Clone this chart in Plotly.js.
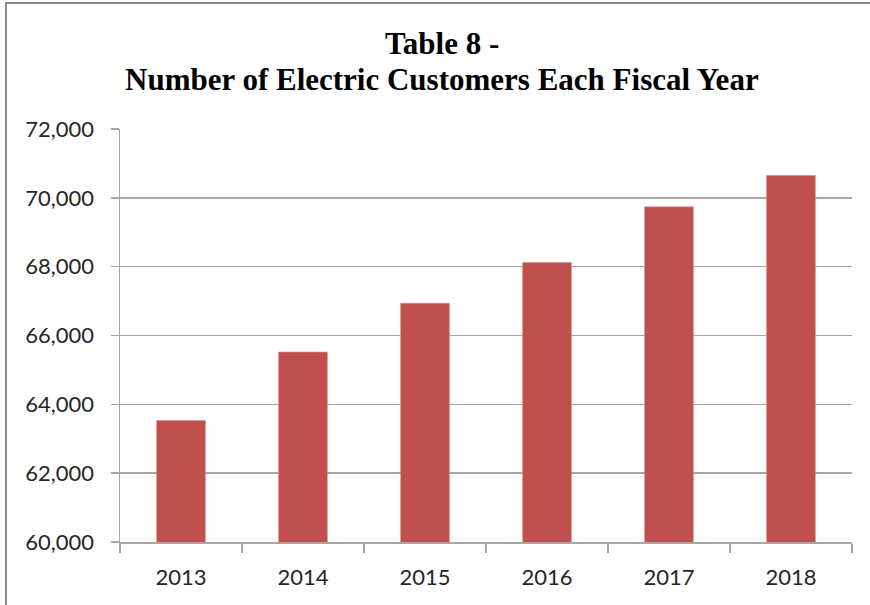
<!DOCTYPE html>
<html>
<head>
<meta charset="utf-8">
<script src="https://cdn.plot.ly/plotly-3.0.1.min.js"></script>
<style>
html,body{margin:0;padding:0;overflow:hidden;background:#fff;}
#wrap{position:relative;width:870px;height:605px;}
#chart{position:absolute;left:0;top:0;width:870px;height:605px;}
#frame{position:absolute;left:5px;top:2px;width:900px;height:700px;border:2px solid #8a8a8a;pointer-events:none;box-sizing:border-box;}
</style>
</head>
<body>
<div id="wrap"><div id="chart"></div><div id="frame"></div></div>
<script>
const years = ['2013','2014','2015','2016','2017','2018'];
const customers = [63530, 65520, 66940, 68120, 69740, 70650];
const yTicks = [60000, 62000, 64000, 66000, 68000, 70000, 72000];
const yTickLabels = ['60,000','62,000','64,000','66,000','68,000','70,000','72,000'];
const titleLines = ['Table 8 -', 'Number of Electric Customers Each Fiscal Year'];

const trace = {
  type: 'bar',
  x: years,
  y: customers,
  marker: {color: '#C0504D', line: {color: '#D98A88', width: 0.6}},
  hoverinfo: 'x+y'
};

const gridCol = '#A6A6A6';
const titleFont = {family: 'Liberation Serif, Times New Roman, serif', size: 31, color: '#000'};
const layout = {
  width: 870, height: 605,
  margin: {l: 120, r: 18, t: 129, b: 63},
  paper_bgcolor: '#ffffff', plot_bgcolor: '#ffffff',
  annotations: [
    {text: '<b>' + titleLines[0] + '</b>', xref: 'paper', yref: 'paper', x: 0.44, y: 1.206,
     xanchor: 'center', yanchor: 'middle', showarrow: false, font: titleFont},
    {text: '<b>' + titleLines[1] + '</b>', xref: 'paper', yref: 'paper', x: 0.44, y: 1.119,
     xanchor: 'center', yanchor: 'middle', showarrow: false, font: titleFont}
  ],
  bargap: 0.6,
  showlegend: false,
  xaxis: {
    type: 'category',
    tickson: 'boundaries',
    ticks: 'outside', ticklen: 9, tickwidth: 1.5, tickcolor: gridCol,
    showline: true, linecolor: gridCol, linewidth: 1.5,
    showgrid: false,
    tickfont: {family: 'Lato, Open Sans, sans-serif', size: 22, color: '#262626'},
    ticklabelstandoff: 15
  },
  yaxis: {
    range: [60000, 72000],
    tickvals: yTicks, ticktext: yTickLabels,
    ticks: 'outside', ticklen: 8, tickwidth: 1.5, tickcolor: gridCol,
    showline: true, linecolor: gridCol, linewidth: 1.5,
    showgrid: true, gridcolor: gridCol, gridwidth: 1.5,
    zeroline: false,
    tickfont: {family: 'Lato, Open Sans, sans-serif', size: 22, color: '#262626'},
    ticklabelstandoff: 12
  }
};

Plotly.newPlot('chart', [trace], layout, {displayModeBar: false, staticPlot: true});
</script>
</body>
</html>
